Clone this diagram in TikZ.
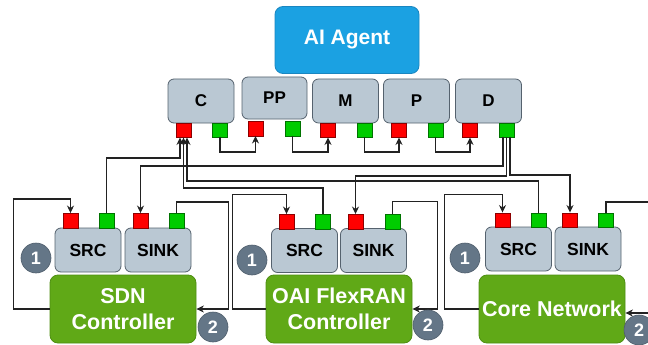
\documentclass[tikz,border=0pt]{standalone}
\usepackage{fontspec}
\setmainfont{Liberation Sans}
\usetikzlibrary{arrows.meta,calc}
\definecolor{agentblue}{HTML}{1BA1E2}
\definecolor{agentstroke}{HTML}{1A86C0}
\definecolor{boxgray}{HTML}{BAC8D3}
\definecolor{boxstroke}{HTML}{55626E}
\definecolor{ctrlgreen}{HTML}{60A917}
\definecolor{ctrlstroke}{HTML}{4E8F12}
\definecolor{portred}{HTML}{FF0000}
\definecolor{portgreen}{HTML}{00CC00}
\definecolor{badgefill}{HTML}{647687}
\definecolor{badgestroke}{HTML}{4F5E6C}
\definecolor{wirecol}{HTML}{222222}
\tikzset{
  agent/.style={rectangle, rounded corners=8pt, fill=agentblue, draw=agentstroke, line width=0.8pt,
    text=white, font=\fontsize{21}{25}\selectfont\bfseries, minimum width=144pt, minimum height=67pt},
  fnbox/.style={rectangle, rounded corners=6pt, fill=boxgray, draw=boxstroke, line width=0.8pt,
    font=\fontsize{17}{20}\selectfont\bfseries, minimum width=66pt, minimum height=44pt, inner sep=0pt},
  epbox/.style={fnbox, font=\fontsize{17.5}{20}\selectfont\bfseries},
  ctrl/.style={rectangle, rounded corners=8pt, fill=ctrlgreen, draw=ctrlstroke, line width=0.8pt,
    text=white, font=\fontsize{21.5}{26}\selectfont\bfseries, align=center,
    minimum width=146pt, minimum height=68pt, inner sep=0pt},
  rport/.style={rectangle, fill=portred, draw=red!55!black, line width=0.4pt,
    minimum width=15pt, minimum height=14.5pt, inner sep=0pt},
  gport/.style={rectangle, fill=portgreen, draw=green!45!black, line width=0.4pt,
    minimum width=15pt, minimum height=14.5pt, inner sep=0pt},
  badge/.style={circle, fill=badgefill, draw=badgestroke, line width=0.6pt, text=white,
    font=\fontsize{18}{20}\selectfont\bfseries, minimum size=30pt, inner sep=0pt},
  wire/.style={draw=wirecol, line width=1.4pt},
  arr/.style={wire, -{Stealth[length=7.5pt,width=7pt]}}
}
\begin{document}
\begin{tikzpicture}[x=1pt,y=-1pt]
\useasboundingbox (0,0) rectangle (648,345);
\clip (0,0) rectangle (648,345);

% AI agent
\node[agent] (ai) at (347,40) {AI Agent};

% top row functions
\node[fnbox] (C)  at (201,101) {C};
\node[fnbox, minimum width=65pt, minimum height=42pt] (PP) at (274.5,98) {PP};
\node[fnbox] (M)  at (345.5,101) {M};
\node[fnbox] (P)  at (416.5,101) {P};
\node[fnbox] (D)  at (488.5,101) {D};

\node[rport] (Cr)  at (183.5,130) {};
\node[gport] (Cg)  at (220,130) {};
\node[rport] (PPr) at (255.5,128.5) {};
\node[gport] (PPg) at (292.5,128.5) {};
\node[rport] (Mr)  at (328,130) {};
\node[gport] (Mg)  at (364.5,130) {};
\node[rport] (Pr)  at (399,130) {};
\node[gport] (Pg)  at (435.5,130) {};
\node[rport] (Dr)  at (470,130) {};
\node[gport] (Dg)  at (506.5,130) {};

% bottom block 1: SDN
\node[epbox] (s1) at (88,250) {SRC};
\node[epbox] (k1) at (158,250) {SINK};
\node[ctrl]  (c1) at (123,309) {SDN\\Controller};
\node[rport] (s1r) at (70.5,220.5) {};
\node[gport] (s1g) at (106.5,220.5) {};
\node[rport] (k1r) at (140.5,220.5) {};
\node[gport] (k1g) at (176.5,220.5) {};

% bottom block 2: OAI FlexRAN
\node[epbox] (s2) at (304.5,250.5) {SRC};
\node[epbox] (k2) at (373.5,250.5) {SINK};
\node[ctrl]  (c2) at (339,309) {OAI FlexRAN\\Controller};
\node[rport] (s2r) at (286.5,221.5) {};
\node[gport] (s2g) at (323,221.5) {};
\node[rport] (k2r) at (355.5,221.5) {};
\node[gport] (k2g) at (392.5,221.5) {};

% bottom block 3: Core Network
\node[epbox] (s3) at (518.5,249) {SRC};
\node[epbox] (k3) at (588,249) {SINK};
\node[ctrl]  (c3) at (552,309) {Core Network};
\node[rport] (s3r) at (502.5,220) {};
\node[gport] (s3g) at (538.5,220) {};
\node[rport] (k3r) at (570,220) {};
\node[gport] (k3g) at (606,220) {};

% chain between top functions
\draw[arr] (Cg.south)  -- (Cg.south |- 0,152)  -| (PPr.south);
\draw[arr] (PPg.south) -- (PPg.south |- 0,152) -| (Mr.south);
\draw[arr] (Mg.south)  -- (Mg.south |- 0,152)  -| (Pr.south);
\draw[arr] (Pg.south)  -- (Pg.south |- 0,152)  -| (Dr.south);

% SRC outputs to C
\coordinate (cin1) at ($(Cr.south)+(-3.5,0)$);
\coordinate (cin2) at (Cr.south);
\coordinate (cin3) at ($(Cr.south)+(3.5,0)$);
\draw[arr] (s1g.north) -- (s1g.north |- 0,158) -| (cin1);
\draw[arr] (s2g.north) -- (s2g.north |- 0,188) -| (cin2);
\draw[arr] (s3g.north) -- (s3g.north |- 0,181) -| (cin3);

% D outputs to SINKs
\coordinate (dout1) at ($(Dg.south)+(-3.5,0)$);
\coordinate (dout2) at (Dg.south);
\coordinate (dout3) at ($(Dg.south)+(3.5,0)$);
\draw[arr] (dout1) -- (dout1 |- 0,166) -| (k1r.north);
\draw[arr] (dout2) -- (dout2 |- 0,176) -| (k2r.north);
\draw[arr] (dout3) -- (dout3 |- 0,175) -| (k3r.north);

% local loops block 1
\draw[arr] (c1.west) -- ++(-36,0) |- ($(s1r.north)+(0,-14)$) -- (s1r.north);
\draw[arr] (k1g.north) -- ++(0,-11) -| ($(c1.east)+(32,0)$) -- (c1.east);
% local loops block 2
\draw[arr] (c2.west) -- ++(-33,0) |- ($(s2r.north)+(0,-19.5)$) -- (s2r.north);
\draw[arr] (k2g.north) -- ++(0,-12.5) -| ($(c2.east)+(25,0)$) -- (c2.east);
% local loops block 3
\coordinate (offout) at (660,202);
\coordinate (offin) at (660,313);
\draw[arr] (c3.west) -- ++(-34,0) |- ($(s3r.north)+(0,-18)$) -- (s3r.north);
\draw[wire] (k3g.north) |- (offout);
\draw[arr] (offin) -- (c3.east |- offin);

% badges
\node[badge] (b11) at (36,258) {1};
\node[badge] (b12) at (213,327) {2};
\node[badge] (b21) at (252,260) {1};
\node[badge] (b22) at (428,325) {2};
\node[badge] (b31) at (465,258) {1};
\node[badge] (b32) at (639,330) {2};
\end{tikzpicture}
\end{document}
